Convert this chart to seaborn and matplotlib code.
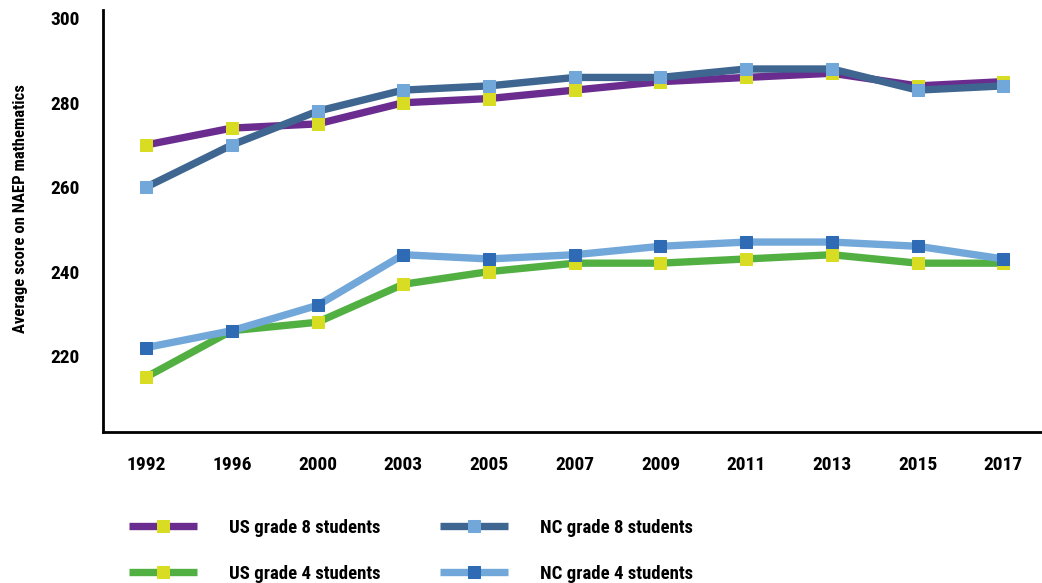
import pandas as pd
import matplotlib
matplotlib.use("Agg")
import matplotlib.pyplot as plt
import seaborn as sns

# Data
years = ["1992", "1996", "2000", "2003", "2005", "2007", "2009", "2011", "2013", "2015", "2017"]
us_grade8 = [270, 274, 275, 280, 281, 283, 285, 286, 287, 284, 285]
nc_grade8 = [260, 270, 278, 283, 284, 286, 286, 288, 288, 283, 284]
us_grade4 = [215, 226, 228, 237, 240, 242, 242, 243, 244, 242, 242]
nc_grade4 = [222, 226, 232, 244, 243, 244, 246, 247, 247, 246, 243]

series = [
    ("US grade 8 students", us_grade8, "#6a2d8f", "#d8dc22"),
    ("NC grade 8 students", nc_grade8, "#3e6690", "#72a7d9"),
    ("US grade 4 students", us_grade4, "#52b043", "#d8dc22"),
    ("NC grade 4 students", nc_grade4, "#72a7d9", "#2f6ab4"),
]

sns.set_style("white")
plt.rcParams["font.family"] = ["Roboto Condensed", "PT Sans Narrow", "DejaVu Sans"]
plt.rcParams["font.weight"] = "bold"
plt.rcParams["text.color"] = "black"
plt.rcParams["axes.labelcolor"] = "black"
plt.rcParams["xtick.color"] = "black"
plt.rcParams["ytick.color"] = "black"

fig = plt.figure(figsize=(10.42, 5.83), dpi=100)
ax = fig.add_axes([0.099, 0.259, 0.901, 0.724])

for name, vals, line_col, mark_col in series:
    df = pd.DataFrame({"year": years, "score": vals})
    sns.lineplot(data=df, x="year", y="score", ax=ax, color=line_col,
                 linewidth=5.3, marker="s", markersize=8,
                 markerfacecolor=mark_col, markeredgecolor=mark_col,
                 solid_capstyle="butt", label=name, sort=False)

ax.set_ylim(202, 302)
ax.set_yticks([220, 240, 260, 280, 300])
ax.set_xlim(-0.5, len(years) - 1 + 0.45)
ax.set_xlabel("")
ax.set_ylabel("Average score on NAEP mathematics", fontsize=12, fontweight="bold")
ax.yaxis.set_label_coords(-0.08, 0.53)
ax.tick_params(axis="x", length=0, pad=17, labelsize=14)
ax.tick_params(axis="y", length=0, pad=17, labelsize=14)
for lbl in ax.get_xticklabels() + ax.get_yticklabels():
    lbl.set_fontweight("bold")

sns.despine(ax=ax)
for side in ["left", "bottom"]:
    ax.spines[side].set_color("black")
    ax.spines[side].set_linewidth(2)

handles, labels = ax.get_legend_handles_labels()
ax.get_legend().remove()
order = [0, 2, 1, 3]
fig.legend([handles[i] for i in order], [labels[i] for i in order],
           loc="upper left", bbox_to_anchor=(0.117, 0.123), ncol=2,
           frameon=False, handlelength=3.6, handletextpad=1.7,
           columnspacing=3.2, labelspacing=1.5, borderaxespad=0,
           prop={"weight": "bold", "size": 13.5})

fig.savefig("out.png", dpi=100)
